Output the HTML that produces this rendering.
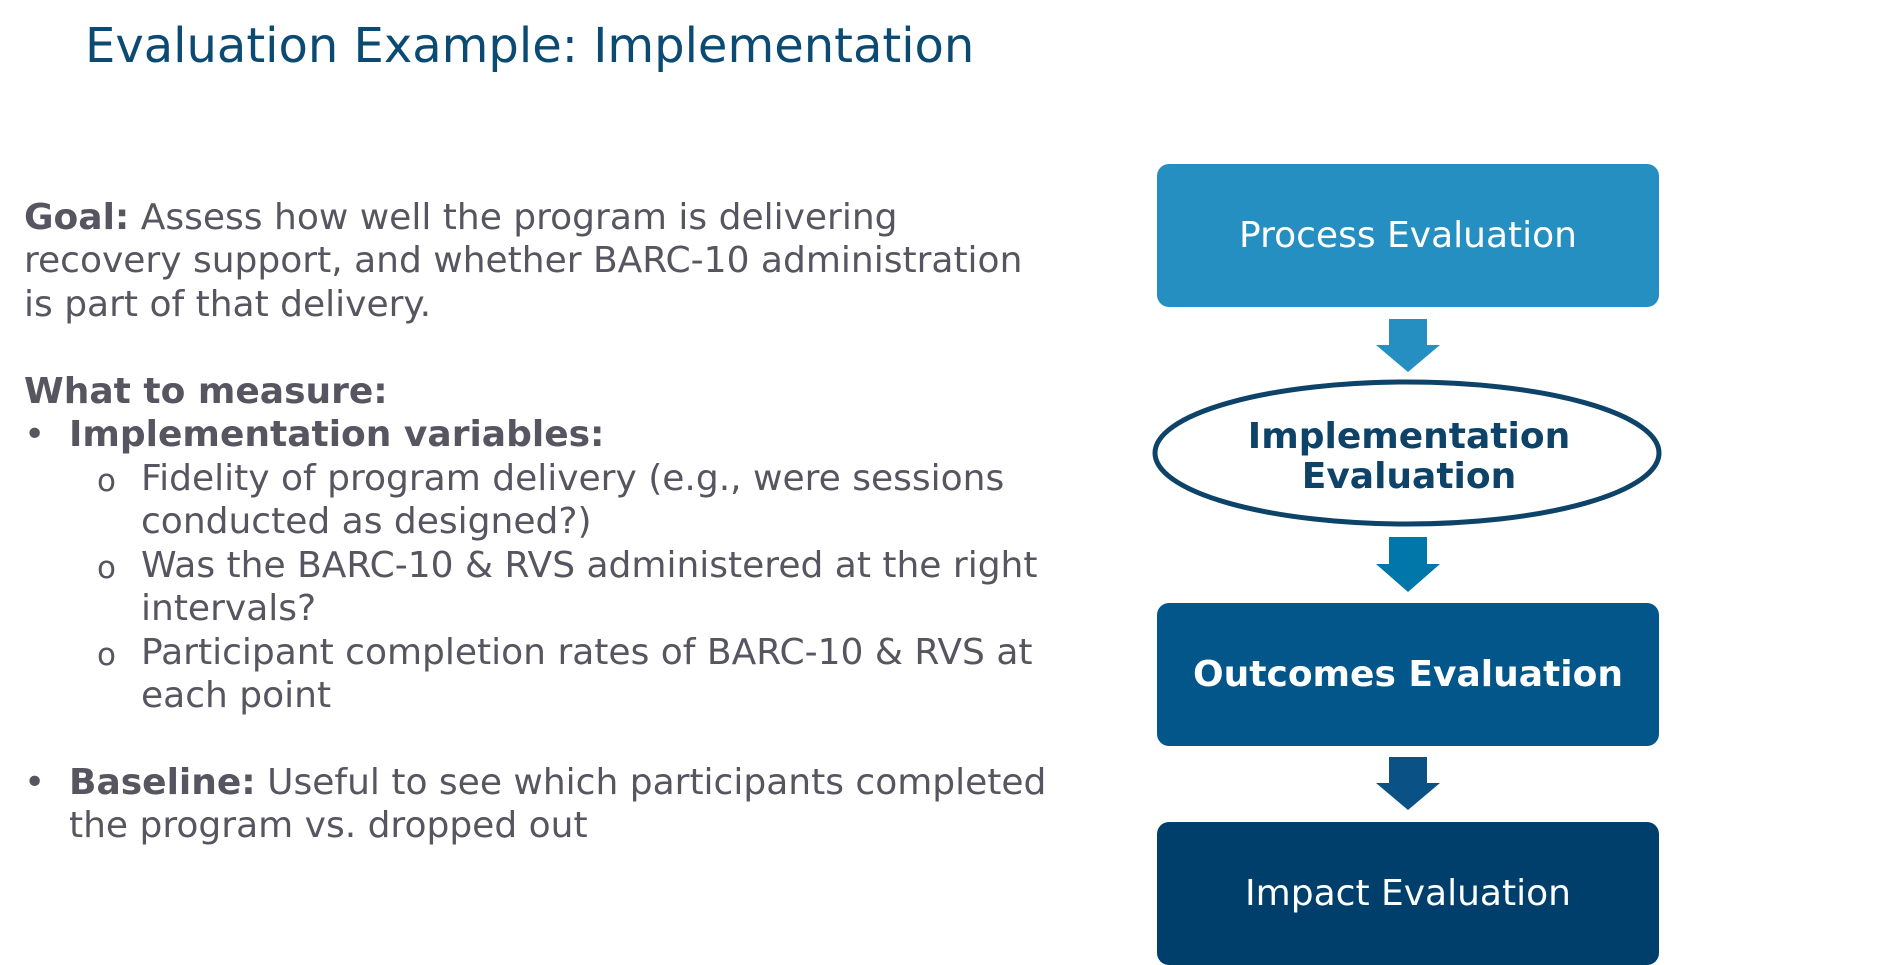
<!DOCTYPE html>
<html><head><meta charset="utf-8"><style>
*{margin:0;padding:0}
body{width:1884px;height:964px;background:#fff;position:relative;overflow:hidden;font-family:"DejaVu Sans","Liberation Sans",sans-serif}
.t{position:absolute;white-space:nowrap;color:#565560;font-size:36px;line-height:1}
b{font-weight:bold}
.o{font-size:31px}
.box{position:absolute;left:1157px;width:502px;height:143px;border-radius:12px;color:#fff;font-size:36px;display:flex;align-items:center;justify-content:center;white-space:nowrap}
</style></head><body>
<div class="t" style="left:85px;top:22px;font-size:48px;color:#0a4a73">Evaluation Example: Implementation</div>

<div class="t" style="left:24px;top:200px"><b>Goal:</b> Assess how well the program is delivering</div>
<div class="t" style="left:24px;top:243px">recovery support, and whether BARC-10 administration</div>
<div class="t" style="left:24px;top:287px">is part of that delivery.</div>
<div class="t" style="left:24px;top:374px"><b>What to measure:</b></div>
<div class="t" style="left:24px;top:417px">•</div>
<div class="t" style="left:69px;top:417px"><b>Implementation variables:</b></div>
<div class="t o" style="left:97px;top:466px">o</div>
<div class="t" style="left:141px;top:461px">Fidelity of program delivery (e.g., were sessions</div>
<div class="t" style="left:141px;top:504px">conducted as designed?)</div>
<div class="t o" style="left:97px;top:553px">o</div>
<div class="t" style="left:141px;top:548px">Was the BARC-10 &amp; RVS administered at the right</div>
<div class="t" style="left:141px;top:591px">intervals?</div>
<div class="t o" style="left:97px;top:640px">o</div>
<div class="t" style="left:141px;top:635px">Participant completion rates of BARC-10 &amp; RVS at</div>
<div class="t" style="left:141px;top:678px">each point</div>
<div class="t" style="left:24px;top:765px">•</div>
<div class="t" style="left:69px;top:765px"><b>Baseline:</b> Useful to see which participants completed</div>
<div class="t" style="left:69px;top:808px">the program vs. dropped out</div>

<div class="box" style="top:164px;background:#258fc1">Process Evaluation</div>
<div class="box" style="top:603px;background:#02568a;font-weight:bold">Outcomes Evaluation</div>
<div class="box" style="top:822px;background:#003f6b">Impact Evaluation</div>

<svg style="position:absolute;left:0;top:0" width="1884" height="964">
<polygon points="1389,319 1427,319 1427,345 1440,345 1408,372 1376,345 1389,345" fill="#258fc1"/>
<polygon points="1389,537 1427,537 1427,564 1440,564 1408,592 1376,564 1389,564" fill="#0077a8"/>
<polygon points="1389,757 1427,757 1427,783 1440,783 1408,810 1376,783 1389,783" fill="#0a5286"/>
<ellipse cx="1407" cy="453" rx="252" ry="71" fill="#fff" stroke="#0d4368" stroke-width="5"/>
<text x="1409" y="448" text-anchor="middle" font-family="DejaVu Sans, sans-serif" font-weight="bold" font-size="36" fill="#0d4368">Implementation</text>
<text x="1409" y="488" text-anchor="middle" font-family="DejaVu Sans, sans-serif" font-weight="bold" font-size="36" fill="#0d4368">Evaluation</text>
</svg>
</body></html>
